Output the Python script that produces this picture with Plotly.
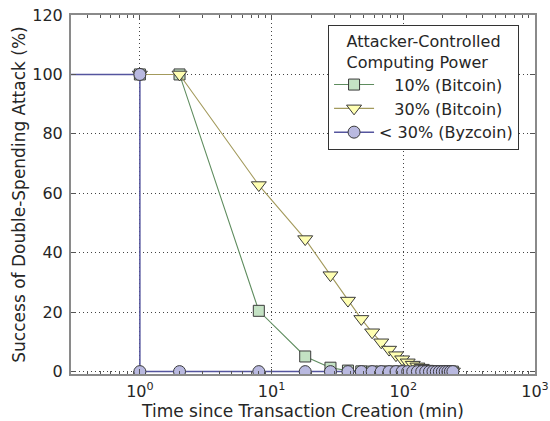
import plotly.graph_objects as go

# ---- data ----
# first entry (0.1) stands for t = 0, which lies left of the visible log axis
time_btc = [0.1, 1, 2, 8, 18, 28, 38, 48, 58, 68, 78, 88, 98, 108, 118, 128,
            138, 148, 158, 168, 178, 188, 198, 208, 218, 228, 238]
btc10 = [100, 100, 100, 20.46, 5.10, 1.32, 0.35, 0.091, 0.024, 0.0065, 0.0017,
         0.00046, 0.00012, 0.00003, 0.00001, 0, 0, 0, 0, 0, 0, 0, 0, 0, 0, 0, 0]
btc30 = [100, 100, 100, 62.78, 44.60, 32.46, 23.91, 17.74, 13.24, 9.87, 7.42,
         5.54, 4.17, 3.13, 2.35, 1.77, 1.33, 1.01, 0.76, 0.58, 0.44, 0.33, 0.25,
         0.19, 0.14, 0.11, 0.08]
time_byz = [0.1, 1, 1, 2, 8, 18, 28, 38, 48, 58, 68, 78, 88, 98, 108, 118, 128,
            138, 148, 158, 168, 178, 188, 198, 208, 218, 228, 238]
byz = [100, 100, 0, 0, 0, 0, 0, 0, 0, 0, 0, 0, 0, 0, 0, 0, 0, 0, 0, 0, 0, 0, 0,
       0, 0, 0, 0, 0]

x_tickvals = [1, 10, 100, 1000]
x_ticktext = ["10<sup>0</sup>", "10<sup>1</sup>", "10<sup>2</sup>", "10<sup>3</sup>"]
y_tickvals = [0, 20, 40, 60, 80, 100, 120]

names = ["\u00a0\u00a0\u00a010% (Bitcoin)", "\u00a0\u00a0\u00a030% (Bitcoin)", "< 30% (Byzcoin)"]

FONT = "DejaVu Sans"
TXT = "#262626"
EDGE = "#3a3a3a"

fig = go.Figure()
fig.add_trace(go.Scatter(
    x=time_btc, y=btc10, name=names[0], mode="lines+markers",
    line=dict(color="#5e8c5e", width=1.1),
    marker=dict(symbol="square", size=11, color="#c4e2c4",
                line=dict(color=EDGE, width=1))))
fig.add_trace(go.Scatter(
    x=time_btc, y=btc30, name=names[1], mode="lines+markers",
    line=dict(color="#a39a5c", width=1.1),
    marker=dict(symbol="triangle-down", size=13, color="#ffffb2",
                line=dict(color=EDGE, width=1))))
fig.add_trace(go.Scatter(
    x=time_byz, y=byz, name=names[2], mode="lines+markers",
    line=dict(color="#55559e", width=1.5),
    marker=dict(symbol="circle", size=12, color="#b9b9e0",
                line=dict(color=EDGE, width=1))))

minor_x = [m * 10 ** e for e in (-1, 0, 1, 2) for m in range(2, 10)]

axis_common = dict(
    automargin=False,
    showline=True, linecolor="#8a8a8a", linewidth=2, mirror="ticks",
    ticks="inside", ticklen=5, tickwidth=1, tickcolor="#555555",
    showgrid=True, gridcolor="#444444", griddash="1px,3px", gridwidth=1,
    zeroline=False, tickfont=dict(family=FONT, size=16, color=TXT),
)

fig.update_xaxes(
    type="log", range=[-0.523, 3],
    tickmode="array", tickvals=x_tickvals, ticktext=x_ticktext,
    minor=dict(tickmode="array", tickvals=minor_x, ticks="inside", ticklen=3,
               tickcolor="#555555", showgrid=False),
    ticklabelstandoff=2,
    title=dict(text="Time since Transaction Creation (min)",
               font=dict(family=FONT, size=17, color=TXT), standoff=4),
    **axis_common)
fig.update_yaxes(
    range=[-0.8, 120], tickmode="array", tickvals=y_tickvals,
    ticklabelstandoff=3,
    title=dict(text="Success of Double-Spending Attack (%)",
               font=dict(family=FONT, size=17, color=TXT), standoff=2),
    **axis_common)

fig.update_layout(
    width=550, height=421,
    margin=dict(l=71, r=15, t=15, b=47),
    paper_bgcolor="white", plot_bgcolor="white",
    font=dict(family=FONT, color=TXT),
    legend=dict(
        x=0.554, y=0.972, xanchor="left", yanchor="top",
        bgcolor="white", bordercolor="#333333", borderwidth=1,
        font=dict(family=FONT, size=16, color=TXT),
        title=dict(text="Attacker-Controlled<br>Computing Power",
                   side="top center", font=dict(family=FONT, size=16, color=TXT)),
        itemwidth=40, tracegroupgap=0,
    ),
    showlegend=True,
)

fig.write_html(
    "out.html",
    config={"displayModeBar": False},
    post_script="document.body.style.margin='0';document.body.style.overflow='hidden';",
)
